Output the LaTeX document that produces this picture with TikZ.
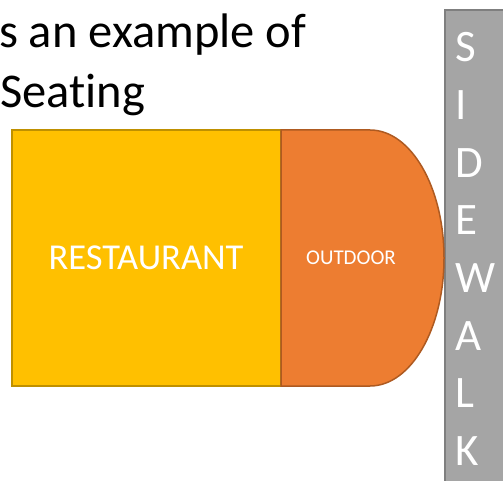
\documentclass[tikz,border=0pt]{standalone}
\usepackage{fontspec}
\setmainfont[Ligatures=NoCommon]{Carlito}
\definecolor{rest}{HTML}{FFC000}
\definecolor{restb}{HTML}{BF9000}
\definecolor{outd}{HTML}{ED7D31}
\definecolor{outdb}{HTML}{AE5A21}
\definecolor{walk}{HTML}{A5A5A5}
\definecolor{walkb}{HTML}{7F7F7F}
\begin{document}
\begin{tikzpicture}[x=1pt,y=1pt,
  lbl/.style={inner sep=0pt,outer sep=0pt},
  wletter/.style={lbl,anchor=base west,text=white,font=\fontsize{45}{54}\selectfont}]
\useasboundingbox (0,0) rectangle (503,480);
\begin{scope}
\clip (0,0) rectangle (503,480);
% sidewalk
\draw[fill=walk,draw=walkb,line width=1.5pt] (445,-5) rectangle (510,470);
\end{scope}
% restaurant
\draw[fill=rest,draw=restb,line width=1.5pt] (12,94) rectangle (281,350);
% outdoor
\draw[fill=outd,draw=outdb,line width=1.5pt] (281,350) -- (370,350)
   arc[start angle=90,end angle=-90,x radius=74,y radius=128] -- (281,94) -- cycle;
\node[lbl,text=white,font=\fontsize{36.5}{42}\selectfont] (restaurant) at (146,222) {RESTAURANT};
\node[lbl,text=white,font=\fontsize{21}{25}\selectfont] (outdoor) at (351,222) {OUTDOOR};
% title text
\node[lbl,anchor=base west,font=\fontsize{48.5}{60}\selectfont] (t1) at (-1,432) {s an example of};
\node[lbl,anchor=base west,font=\fontsize{48.5}{60}\selectfont] (t2) at (0,372) {Seating};
% sidewalk letters
\foreach \L [count=\i from 0] in {S,I,D,E,W,A,L,K} {
  \node[wletter] (w\i) at (455,{418-57.6*\i}) {\L};
}
\end{tikzpicture}
\end{document}
